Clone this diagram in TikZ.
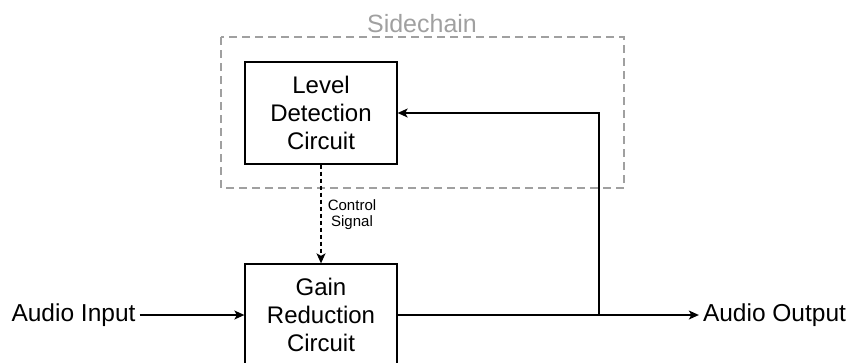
\documentclass[tikz,border=0pt]{standalone}
\usepackage{fontspec}
\setmainfont{Liberation Sans}
\usepackage{tikz}
\usetikzlibrary{shapes,arrows.meta}

\definecolor{sidegray}{RGB}{160,160,160}

\begin{document}
\begin{tikzpicture}[x=1pt,y=-1pt,inner sep=0pt,line width=1.3pt,
  >={Stealth[length=10pt,width=9pt,inset=2.5pt]},
  block/.style={rectangle,draw=black,minimum width=152pt,minimum height=102pt,
    align=center,font=\fontsize{24}{28}\selectfont},
  sig/.style={inner sep=3.5pt,font=\fontsize{24.5}{28}\selectfont}]
\useasboundingbox (0,0) rectangle (851,362);
\clip (0,0) rectangle (851,362);
\draw[sidegray,line width=2.2pt,dash pattern=on 8pt off 5pt] (221,37) rectangle (624,188);
\node at (422,24) [text=sidegray,font=\fontsize{25}{28}\selectfont] (Side) {Sidechain};
\node at (321,113) [block] (Level) {Level\\Detection\\Circuit};
\node at (321,315) [block] (Gain) {Gain\\Reduction\\Circuit};
\node at (73.5,315) [sig] (In) {Audio Input};
\node at (774.5,315) [sig] (Out) {Audio Output};
\node at (352,215) [align=center,font=\fontsize{15}{16}\selectfont] (Ctrl) {Control\\Signal};
\coordinate (Tap) at (599,315);
\draw[->] (In) -- (Gain);
\draw[->] (Gain) -- (Out);
\draw[->] (Tap) |- (Level);
\draw[->,dash pattern=on 4pt off 3pt] (Level) -- (Gain);

\end{tikzpicture}
\end{document}
